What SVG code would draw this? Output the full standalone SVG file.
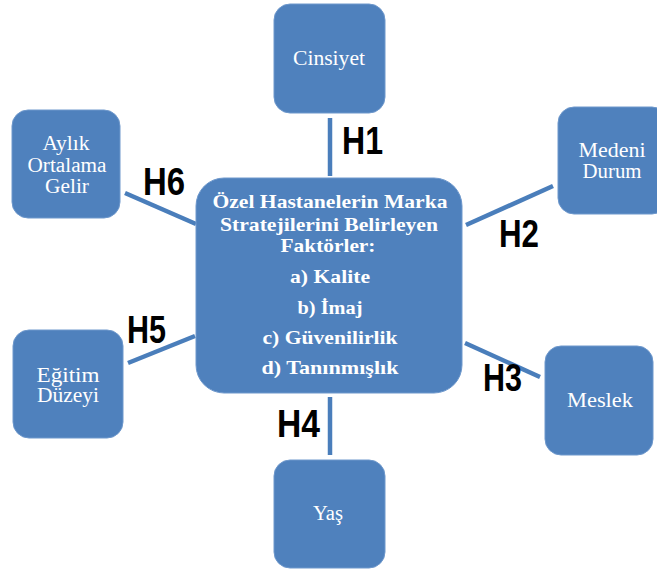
<svg xmlns="http://www.w3.org/2000/svg" width="657" height="569" viewBox="0 0 657 569">
<style>
.box{fill:#4F81BD;stroke:#6E98CC;stroke-width:1}
.t{font-family:"Liberation Serif","Times New Roman",serif;font-size:20px;fill:#FFFFFF;text-anchor:middle}
.c{font-family:"Liberation Serif","Times New Roman",serif;font-size:19.5px;font-weight:bold;fill:#FFFFFF;text-anchor:middle}
.h{font-family:"Liberation Sans",Arial,sans-serif;font-size:39px;font-weight:bold;fill:#000000}
.ln{stroke:#4A7EBB;stroke-width:4.5;fill:none}
</style>
<rect width="657" height="569" fill="#FFFFFF"/>
<g id="connectors">
<line class="ln" x1="330" y1="118" x2="330" y2="176"/>
<line class="ln" x1="466" y1="225" x2="553" y2="186"/>
<line class="ln" x1="465" y1="343" x2="540" y2="377"/>
<line class="ln" x1="330" y1="397" x2="330" y2="455"/>
<line class="ln" x1="128" y1="363" x2="195" y2="336"/>
<line class="ln" x1="125" y1="193" x2="196" y2="224"/>
<text class="h" x="342" y="154" textLength="41" lengthAdjust="spacingAndGlyphs">H1</text>
<text class="h" x="499" y="247" textLength="40" lengthAdjust="spacingAndGlyphs">H2</text>
<text class="h" x="483" y="391" textLength="39" lengthAdjust="spacingAndGlyphs">H3</text>
<text class="h" x="277" y="437" textLength="43" lengthAdjust="spacingAndGlyphs">H4</text>
<text class="h" x="127" y="343" textLength="39" lengthAdjust="spacingAndGlyphs">H5</text>
<text class="h" x="143" y="195" textLength="42" lengthAdjust="spacingAndGlyphs">H6</text>
</g>
<g id="center">
<rect class="box" x="196" y="178" width="266" height="215" rx="28"/>
<text class="c" x="330" y="208" textLength="235" lengthAdjust="spacingAndGlyphs">Özel Hastanelerin Marka</text>
<text class="c" x="329" y="231" textLength="218" lengthAdjust="spacingAndGlyphs">Stratejilerini Belirleyen</text>
<text class="c" x="328" y="252" textLength="95" lengthAdjust="spacingAndGlyphs">Faktörler:</text>
<text class="c" x="330" y="283" textLength="80" lengthAdjust="spacingAndGlyphs">a) Kalite</text>
<text class="c" x="330" y="314" textLength="65" lengthAdjust="spacingAndGlyphs">b) İmaj</text>
<text class="c" x="330" y="344" textLength="135" lengthAdjust="spacingAndGlyphs">c) Güvenilirlik</text>
<text class="c" x="330" y="374" textLength="137" lengthAdjust="spacingAndGlyphs">d) Tanınmışlık</text>
</g>
<g id="cinsiyet">
<rect class="box" x="274" y="4" width="111" height="109" rx="16"/>
<text class="t" x="329" y="65" textLength="72" lengthAdjust="spacingAndGlyphs">Cinsiyet</text>
</g>
<g id="medeni">
<rect class="box" x="558" y="107" width="110" height="107" rx="16"/>
<text class="t" x="612" y="157" textLength="67" lengthAdjust="spacingAndGlyphs">Medeni</text>
<text class="t" x="612" y="178" textLength="59" lengthAdjust="spacingAndGlyphs">Durum</text>
</g>
<g id="meslek">
<rect class="box" x="545" y="346" width="108" height="109" rx="16"/>
<text class="t" x="600" y="407" textLength="66" lengthAdjust="spacingAndGlyphs">Meslek</text>
</g>
<g id="yas">
<rect class="box" x="274" y="460" width="111" height="108" rx="16"/>
<text class="t" x="328" y="520" textLength="30" lengthAdjust="spacingAndGlyphs">Yaş</text>
</g>
<g id="egitim">
<rect class="box" x="13" y="330" width="110" height="108" rx="16"/>
<text class="t" x="68" y="382" textLength="63" lengthAdjust="spacingAndGlyphs">Eğitim</text>
<text class="t" x="68" y="402" textLength="62" lengthAdjust="spacingAndGlyphs">Düzeyi</text>
</g>
<g id="aylik">
<rect class="box" x="12" y="110" width="108" height="108" rx="16"/>
<text class="t" x="66" y="150" textLength="47" lengthAdjust="spacingAndGlyphs">Aylık</text>
<text class="t" x="67" y="172" textLength="79" lengthAdjust="spacingAndGlyphs">Ortalama</text>
<text class="t" x="67" y="193" textLength="44" lengthAdjust="spacingAndGlyphs">Gelir</text>
</g>
</svg>
